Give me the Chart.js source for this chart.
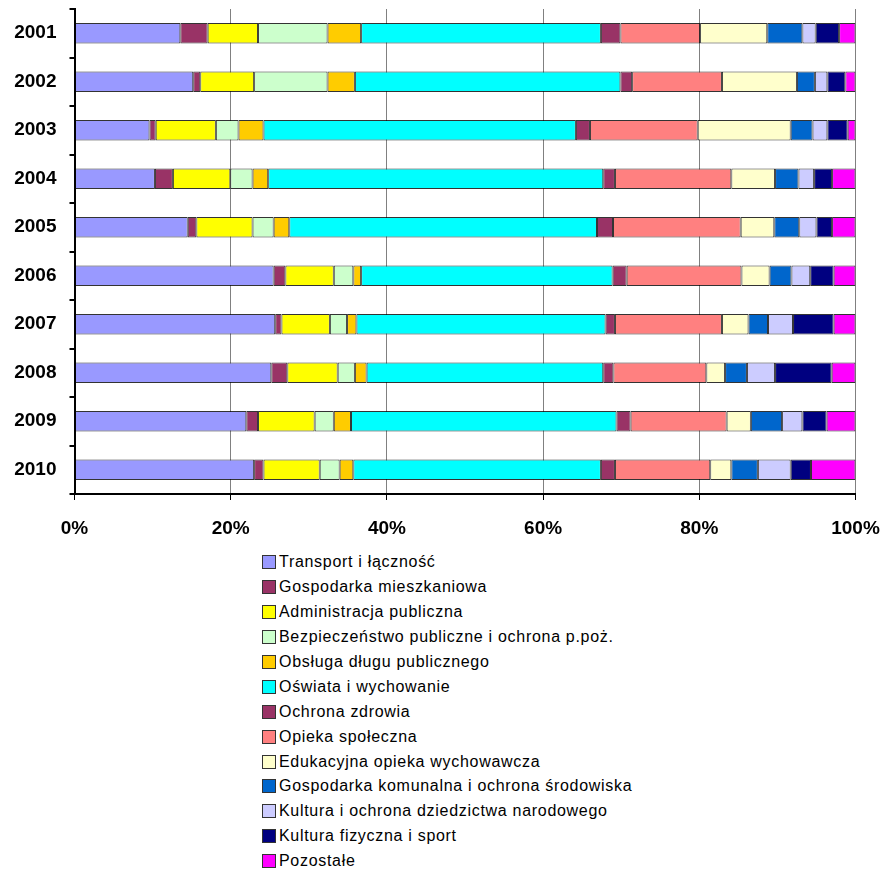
<!DOCTYPE html>
<html>
<head>
<meta charset="utf-8">
<script src="https://cdn.jsdelivr.net/npm/chart.js@4"></script>
<style>
  body { margin: 0; background: #fff; }
  #wrap { position: relative; width: 883px; height: 870px; }
  #chartBox { position: absolute; left: 0; top: 0; width: 883px; height: 545px; }
  #legend { position: absolute; left: 262px; top: 550px; font-family: "Liberation Sans", Arial, sans-serif; font-size: 16px; letter-spacing: 0.7px; color: #000; }
  .legend-item { height: 24.9px; display: flex; align-items: center; white-space: nowrap; }
  .legend-box { width: 12px; height: 12px; border: 1px solid #333; margin-right: 3px; flex: none; }
</style>
</head>
<body>
<div id="wrap">
  <div id="chartBox"><canvas id="chart"></canvas></div>
  <div id="legend"></div>
</div>
<script>
const years = ['2001', '2002', '2003', '2004', '2005', '2006', '2007', '2008', '2009', '2010'];
const xTicks = [0, 20, 40, 60, 80, 100];

// shares in % per year
const transport       = [13.55, 15.2, 9.6, 10.3, 14.5, 25.5, 25.7, 25.2, 22.0, 23.0];
const gospMieszk      = [3.5, 0.9, 0.8, 2.3, 1.1, 1.5, 0.8, 2.05, 1.5, 1.2];
const administracja   = [6.45, 6.9, 7.7, 7.35, 7.2, 6.2, 6.2, 6.45, 7.25, 7.2];
const bezpieczenstwo  = [8.9, 9.4, 2.9, 2.85, 2.7, 2.5, 2.2, 2.2, 2.45, 2.55];
const obslugaDlugu    = [4.3, 3.5, 3.2, 2.0, 2.0, 1.0, 1.2, 1.5, 2.2, 1.75];
const oswiata         = [30.7, 34.0, 40.0, 42.9, 39.4, 32.2, 31.9, 30.3, 34.0, 31.7];
const ochronaZdrowia  = [2.5, 1.5, 1.8, 1.5, 2.05, 1.8, 1.2, 1.3, 1.8, 1.8];
const opieka          = [10.2, 11.5, 13.8, 14.9, 16.35, 14.7, 13.7, 11.9, 12.3, 12.2];
const edukacyjna      = [8.6, 9.6, 11.9, 5.6, 4.3, 3.6, 3.4, 2.4, 3.1, 2.7];
const gospKomunalna   = [4.5, 2.3, 2.8, 3.0, 3.2, 2.8, 2.5, 2.8, 4.0, 3.4];
const kultura         = [1.7, 1.6, 1.9, 2.0, 2.2, 2.4, 3.2, 3.6, 2.6, 4.2];
const kulturaFizyczna = [3.0, 2.3, 2.6, 2.3, 2.0, 3.0, 5.2, 7.25, 3.1, 2.6];
const pozostale       = [2.1, 1.3, 1.0, 3.0, 3.0, 2.8, 2.8, 3.05, 3.7, 5.7];

const seriesNames = [
  'Transport i łączność',
  'Gospodarka mieszkaniowa',
  'Administracja publiczna',
  'Bezpieczeństwo publiczne i ochrona p.poż.',
  'Obsługa długu publicznego',
  'Oświata i wychowanie',
  'Ochrona zdrowia',
  'Opieka społeczna',
  'Edukacyjna opieka wychowawcza',
  'Gospodarka komunalna i ochrona środowiska',
  'Kultura i ochrona dziedzictwa narodowego',
  'Kultura fizyczna i sport',
  'Pozostałe'
];
const seriesColors = ['#9999FF', '#993366', '#FFFF00', '#CCFFCC', '#FFCC00', '#00FFFF', '#993366',
  '#FF8080', '#FFFFCC', '#0066CC', '#CCCCFF', '#000080', '#FF00FF'];
const seriesData = [transport, gospMieszk, administracja, bezpieczenstwo, obslugaDlugu, oswiata,
  ochronaZdrowia, opieka, edukacyjna, gospKomunalna, kultura, kulturaFizyczna, pozostale];

const font = '"Liberation Sans", Arial, sans-serif';

const chart = new Chart(document.getElementById('chart'), {
  type: 'bar',
  data: {
    labels: years,
    datasets: seriesNames.map((name, i) => ({
      label: name,
      data: seriesData[i],
      backgroundColor: seriesColors[i],
      borderColor: 'rgba(0,0,0,0.8)',
      borderWidth: 1,
      borderSkipped: false,
      categoryPercentage: 1,
      barPercentage: 0.42
    }))
  },
  options: {
    indexAxis: 'y',
    responsive: true,
    maintainAspectRatio: false,
    animation: false,
    layout: { padding: { top: 9, right: 27.5, left: 0, bottom: 0 } },
    scales: {
      x: {
        stacked: true,
        min: 0,
        max: 100,
        afterBuildTicks: s => { s.ticks = xTicks.map(v => ({ value: v })); },
        afterFit: s => { s.height = 51; s.paddingLeft = 0; s.paddingRight = 0; },
        ticks: {
          padding: 17,
          color: '#000',
          font: { family: font, size: 19, weight: 'bold' },
          callback: v => v + '%'
        },
        grid: { color: '#808080', lineWidth: 1, tickColor: '#000', tickLength: 6 },
        border: { color: '#000', width: 2 }
      },
      y: {
        stacked: true,
        afterFit: s => { s.width = 74.5; s.paddingTop = 0; s.paddingBottom = 0; },
        ticks: {
          padding: 13,
          color: '#000',
          font: { family: font, size: 19, weight: 'bold' }
        },
        grid: { drawOnChartArea: false, offset: true, tickColor: '#000', tickLength: 5, lineWidth: 2 },
        border: { color: '#000', width: 2 }
      }
    },
    plugins: {
      legend: { display: false },
      tooltip: { enabled: false }
    }
  }
});

// legend in a single column below the chart
const legendEl = document.getElementById('legend');
chart.data.datasets.forEach(ds => {
  const item = document.createElement('div');
  item.className = 'legend-item';
  const box = document.createElement('span');
  box.className = 'legend-box';
  box.style.background = ds.backgroundColor;
  const text = document.createElement('span');
  text.textContent = ds.label;
  item.appendChild(box);
  item.appendChild(text);
  legendEl.appendChild(item);
});
</script>
</body>
</html>
